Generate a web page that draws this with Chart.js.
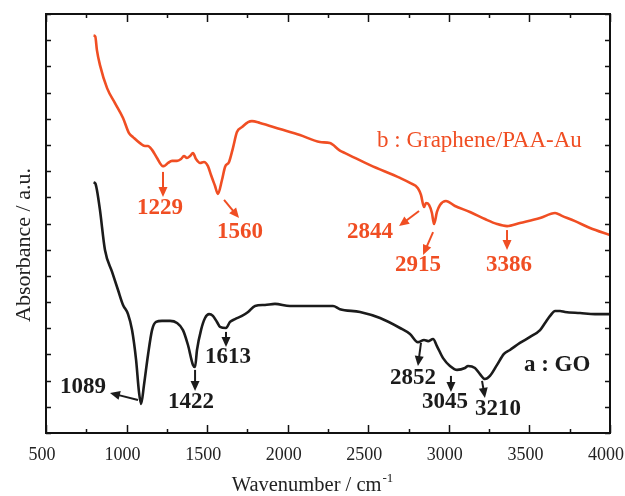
<!DOCTYPE html>
<html>
<head>
<meta charset="utf-8">
<script src="https://cdn.jsdelivr.net/npm/chart.js@4.4.1/dist/chart.umd.min.js"></script>
<style>
  html, body { margin: 0; padding: 0; background: #fff; }
  canvas { display: block; }
</style>
</head>
<body>
<canvas id="ftir" width="625" height="496"></canvas>
<script>
// wavenumber (cm-1) and absorbance (a.u., offset)
const waveB = [795, 806, 816, 835, 879, 928, 978, 1015, 1040, 1083, 1114, 1133, 1158, 1189, 1226, 1232,
  1257, 1282, 1313, 1338, 1356, 1375, 1394, 1412, 1431, 1456, 1480, 1505, 1524, 1549, 1567, 1592,
  1611, 1636, 1660, 1685, 1716, 1754, 1778, 1828, 1952, 2076, 2200, 2262, 2324, 2356, 2511, 2697,
  2759, 2808, 2827, 2846, 2858, 2877, 2895, 2908, 2926, 2945, 2982, 3038, 3131, 3224, 3299, 3361,
  3441, 3566, 3659, 3702, 3783, 3876, 4000];
const absB = [15.18, 15.14, 14.62, 14.05, 13.17, 12.60, 12.03, 11.45, 11.30, 11.07, 10.96, 10.96, 10.81, 10.50, 10.19, 10.19,
  10.31, 10.39, 10.39, 10.46, 10.58, 10.50, 10.58, 10.69, 10.46, 10.31, 10.35, 10.19, 9.85, 9.43, 9.13, 9.66,
  10.16, 10.35, 10.88, 11.49, 11.68, 11.87, 11.91, 11.84, 11.61, 11.38, 11.11, 11.07, 10.78, 10.69, 10.23, 9.74,
  9.55, 9.35, 9.09, 8.63, 8.78, 8.71, 8.40, 7.98, 8.44, 8.71, 8.86, 8.67, 8.44, 8.17, 7.98, 7.90,
  8.02, 8.21, 8.40, 8.29, 8.09, 7.83, 7.56];

const waveA = [795, 806, 816, 835, 866, 910, 947, 978, 1009, 1034, 1059, 1077, 1090, 1108, 1133, 1158,
  1183, 1220, 1270, 1313, 1350, 1381, 1412, 1425, 1437, 1462, 1487, 1512, 1536, 1561, 1580, 1617,
  1642, 1673, 1716, 1754, 1797, 1859, 1921, 2014, 2076, 2200, 2281, 2324, 2449, 2573, 2697, 2759,
  2808, 2846, 2871, 2902, 2926, 2964, 3007, 3051, 3100, 3119, 3162, 3193, 3224, 3255, 3299, 3342,
  3379, 3441, 3504, 3566, 3597, 3628, 3659, 3690, 3721, 3814, 3907, 4000];
const absA = [9.57, 9.53, 9.28, 8.51, 6.99, 6.15, 5.46, 4.89, 4.54, 3.93, 2.79, 1.57, 1.11, 1.83, 2.98, 3.93,
  4.24, 4.28, 4.28, 4.20, 3.93, 3.36, 2.60, 2.52, 3.17, 3.93, 4.39, 4.54, 4.47, 4.24, 4.05, 4.01,
  4.24, 4.35, 4.47, 4.62, 4.85, 4.89, 4.93, 4.85, 4.85, 4.85, 4.85, 4.73, 4.62, 4.39, 4.01, 3.78,
  3.47, 3.55, 3.51, 3.59, 3.32, 2.86, 2.56, 2.41, 2.48, 2.56, 2.48, 2.25, 2.06, 2.18, 2.60, 3.02,
  3.17, 3.44, 3.67, 3.93, 4.20, 4.47, 4.66, 4.66, 4.62, 4.58, 4.54, 4.54];

// peak labels: text, label position (wavenumber, absorbance), arrow tail and head
const peaksB = [
  { text: '1229', at: [1207, 8.59], from: [1226, 9.97], to: [1226, 9.01] },
  { text: '1560', at: [1704, 7.67], from: [1605, 8.90], to: [1698, 8.21] },
  { text: '2844', at: [2511, 7.67], from: [2815, 8.48], to: [2691, 7.90] },
  { text: '2915', at: [2808, 6.41], from: [2902, 7.67], to: [2840, 6.80] },
  { text: '3386', at: [3373, 6.41], from: [3361, 7.75], to: [3361, 6.99] }
];
const peaksA = [
  { text: '1089', at: [730, 1.76], from: [1071, 1.26], to: [897, 1.53] },
  { text: '1422', at: [1400, 1.18], from: [1425, 2.41], to: [1425, 1.60] },
  { text: '1613', at: [1629, 2.90], from: [1617, 3.86], to: [1617, 3.28] },
  { text: '2852', at: [2778, 2.10], from: [2827, 3.44], to: [2808, 2.56] },
  { text: '3045', at: [2976, 1.18], from: [3013, 2.18], to: [3013, 1.57] },
  { text: '3210', at: [3305, 0.92], from: [3206, 1.99], to: [3224, 1.34] }
];
const seriesNames = ['b : Graphene/PAA-Au', 'a : GO'];
const namePos = [[2554, 11.15], [3466, 2.60]];

const RED = '#f04e23';
const BLACK = '#1b1b1b';
const SERIF = '"Liberation Serif", "DejaVu Serif", serif';

function toPoints(xs, ys) {
  return xs.map((x, i) => ({ x: x, y: ys[i] }));
}

// frame, inward ticks, peak arrows and titles
const decorations = {
  id: 'decorations',
  afterDraw(chart) {
    const ctx = chart.ctx;
    const area = chart.chartArea;
    const xs = chart.scales.x;
    const ys = chart.scales.y;

    ctx.save();
    ctx.strokeStyle = '#111';
    ctx.lineWidth = 1.5;
    xs.ticks.forEach(t => {
      const px = Math.round(xs.getPixelForValue(t.value)) + 0.5;
      const len = t.value % 500 === 0 ? 8 : 4;
      ctx.beginPath();
      ctx.moveTo(px, area.bottom); ctx.lineTo(px, area.bottom - len);
      ctx.moveTo(px, area.top); ctx.lineTo(px, area.top + len);
      ctx.stroke();
    });
    ys.ticks.forEach(t => {
      const py = Math.round(ys.getPixelForValue(t.value)) + 0.5;
      ctx.beginPath();
      ctx.moveTo(area.left, py); ctx.lineTo(area.left + 5, py);
      ctx.moveTo(area.right, py); ctx.lineTo(area.right - 5, py);
      ctx.stroke();
    });
    ctx.lineWidth = 2;
    ctx.strokeRect(area.left, area.top, area.right - area.left, area.bottom - area.top);

    function arrow(from, to, color) {
      const x1 = xs.getPixelForValue(from[0]), y1 = ys.getPixelForValue(from[1]);
      const x2 = xs.getPixelForValue(to[0]), y2 = ys.getPixelForValue(to[1]);
      const ang = Math.atan2(y2 - y1, x2 - x1);
      const hl = 10, hw = 4.5;
      ctx.strokeStyle = color;
      ctx.fillStyle = color;
      ctx.lineWidth = 2;
      ctx.beginPath();
      ctx.moveTo(x1, y1);
      ctx.lineTo(x2 - Math.cos(ang) * hl * 0.8, y2 - Math.sin(ang) * hl * 0.8);
      ctx.stroke();
      ctx.beginPath();
      ctx.moveTo(x2, y2);
      ctx.lineTo(x2 - Math.cos(ang) * hl - Math.sin(ang) * hw, y2 - Math.sin(ang) * hl + Math.cos(ang) * hw);
      ctx.lineTo(x2 - Math.cos(ang) * hl + Math.sin(ang) * hw, y2 - Math.sin(ang) * hl - Math.cos(ang) * hw);
      ctx.closePath();
      ctx.fill();
    }

    function label(text, at, color, font, align) {
      ctx.fillStyle = color;
      ctx.font = font;
      ctx.textAlign = align;
      ctx.textBaseline = 'middle';
      ctx.fillText(text, xs.getPixelForValue(at[0]), ys.getPixelForValue(at[1]));
    }

    peaksB.forEach(p => {
      arrow(p.from, p.to, RED);
      label(p.text, p.at, RED, 'bold 23px ' + SERIF, 'center');
    });
    peaksA.forEach(p => {
      arrow(p.from, p.to, BLACK);
      label(p.text, p.at, BLACK, 'bold 23px ' + SERIF, 'center');
    });
    label(seriesNames[0], namePos[0], RED, '23px ' + SERIF, 'left');
    label(seriesNames[1], namePos[1], BLACK, 'bold 23px ' + SERIF, 'left');

    // axis titles
    ctx.fillStyle = '#222';
    ctx.textBaseline = 'alphabetic';
    const main = 'Wavenumber / cm';
    const sup = '-1';
    ctx.font = '20.5px ' + SERIF;
    const wMain = ctx.measureText(main).width;
    ctx.font = '13px ' + SERIF;
    const wSup = ctx.measureText(sup).width;
    const cx = (area.left + area.right) / 2 - 16;
    const startX = cx - (wMain + wSup) / 2;
    ctx.textAlign = 'left';
    ctx.font = '20.5px ' + SERIF;
    ctx.fillText(main, startX, 491);
    ctx.font = '13px ' + SERIF;
    ctx.fillText(sup, startX + wMain + 1, 482);

    ctx.translate(30, 245);
    ctx.rotate(-Math.PI / 2);
    ctx.font = '22px ' + SERIF;
    ctx.textAlign = 'center';
    ctx.fillText('Absorbance / a.u.', 0, 0);
    ctx.restore();
  }
};

new Chart(document.getElementById('ftir'), {
  type: 'line',
  data: {
    datasets: [
      { label: seriesNames[0], data: toPoints(waveB, absB), borderColor: RED, borderWidth: 2.6,
        pointRadius: 0, cubicInterpolationMode: 'monotone', fill: false },
      { label: seriesNames[1], data: toPoints(waveA, absA), borderColor: BLACK, borderWidth: 2.6,
        pointRadius: 0, cubicInterpolationMode: 'monotone', fill: false }
    ]
  },
  options: {
    responsive: false,
    animation: false,
    layout: { padding: { top: 14, right: 15, left: 0, bottom: 0 } },
    plugins: { legend: { display: false }, tooltip: { enabled: false } },
    scales: {
      x: {
        type: 'linear', min: 500, max: 4000,
        grid: { display: false, drawTicks: false },
        border: { display: false },
        ticks: {
          stepSize: 250, autoSkip: false, maxRotation: 0, padding: 11, labelOffset: -4,
          color: '#222', font: { family: SERIF, size: 18 },
          callback: v => (v % 500 === 0 ? String(v) : '')
        },
        afterFit: s => { s.height = 63; s.paddingLeft = 0; s.paddingRight = 0; }
      },
      y: {
        min: 0, max: 16,
        grid: { display: false, drawTicks: false },
        border: { display: false },
        ticks: { stepSize: 1, display: false },
        afterFit: s => { s.width = 46; s.paddingTop = 0; s.paddingBottom = 0; }
      }
    }
  },
  plugins: [decorations]
});
</script>
</body>
</html>
